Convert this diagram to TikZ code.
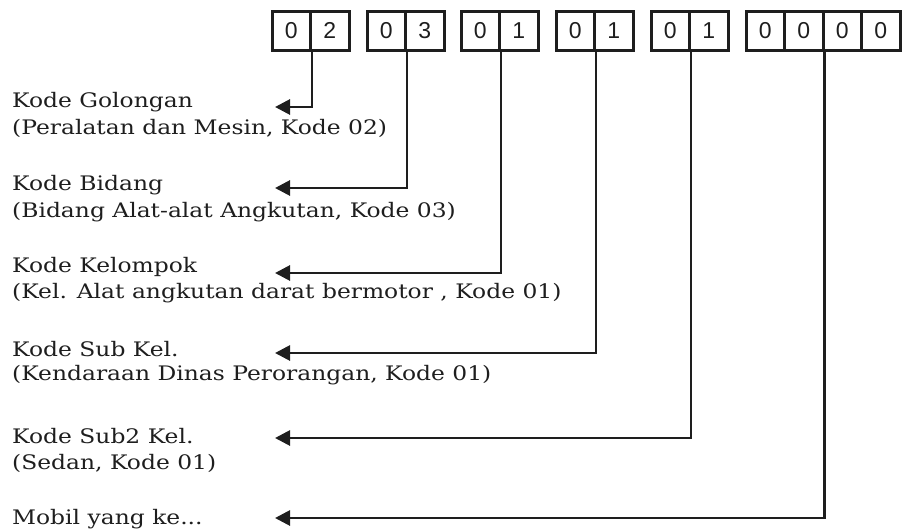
\documentclass[tikz,border=0pt]{standalone}
\usepackage{fontspec}
\setmainfont[FakeStretch=1.17]{DejaVu Serif}
\newfontfamily\digitfont{Liberation Sans}
\usetikzlibrary{arrows.meta}

\definecolor{ink}{RGB}{30,30,30}

\tikzset{
  cell/.style={draw=ink, line width=3pt, minimum width=38.5pt, minimum height=39pt,
    inner sep=0pt, text=ink, font=\digitfont\fontsize{23}{23}\selectfont},
  label/.style={anchor=base west, inner sep=0pt, text=ink, font=\fontsize{20}{24}\selectfont},
  link/.style={draw=ink, line width=2.8pt, -{Triangle[length=15pt,width=15pt]}}
}

\begin{document}
\begin{tikzpicture}[x=1pt,y=-1pt]
\useasboundingbox (0,0) rectangle (905,530);

% code digit cells (centre y = 30.5)
\foreach \g/\x/\digits in {1/272/{0,2},2/367/{0,3},3/461/{0,1},4/556/{0,1},5/651/{0,1},6/746/{0,0,0,0}}{
  \foreach \d [count=\k from 0] in \digits {
    \node[cell] (g\g c\k) at ({\x+19.25+38.5*\k},30.5) {\d};
  }
}

% arrow tips beside the descriptions
\coordinate (t1) at (275,107);
\coordinate (t2) at (275,188);
\coordinate (t3) at (275,273);
\coordinate (t4) at (275,353);
\coordinate (t5) at (275,438);
\coordinate (t6) at (275,518);

\draw[link] (g1c0.south east) |- (t1);
\draw[link] (g2c0.south east) |- (t2);
\draw[link] (g3c0.south east) |- (t3);
\draw[link] (g4c0.south east) |- (t4);
\draw[link] (g5c0.south east) |- (t5);
\draw[link] (g6c1.south east) |- (t6);

% descriptions
\node[label] (d1a) at (12,107) {Kode Golongan};
\node[label] (d1b) at (12,134) {(Peralatan dan Mesin, Kode 02)};
\node[label] (d2a) at (12,190) {Kode Bidang};
\node[label] (d2b) at (12,217) {(Bidang Alat-alat Angkutan, Kode 03)};
\node[label] (d3a) at (12,272) {Kode Kelompok};
\node[label] (d3b) at (12,298) {(Kel. Alat angkutan darat bermotor , Kode 01)};
\node[label] (d4a) at (12,356) {Kode Sub Kel.};
\node[label] (d4b) at (12,380) {(Kendaraan Dinas Perorangan, Kode 01)};
\node[label] (d5a) at (12,443) {Kode Sub2 Kel.};
\node[label] (d5b) at (12,469) {(Sedan, Kode 01)};
\node[label] (d6a) at (12,524) {Mobil yang ke...};
\end{tikzpicture}
\end{document}
